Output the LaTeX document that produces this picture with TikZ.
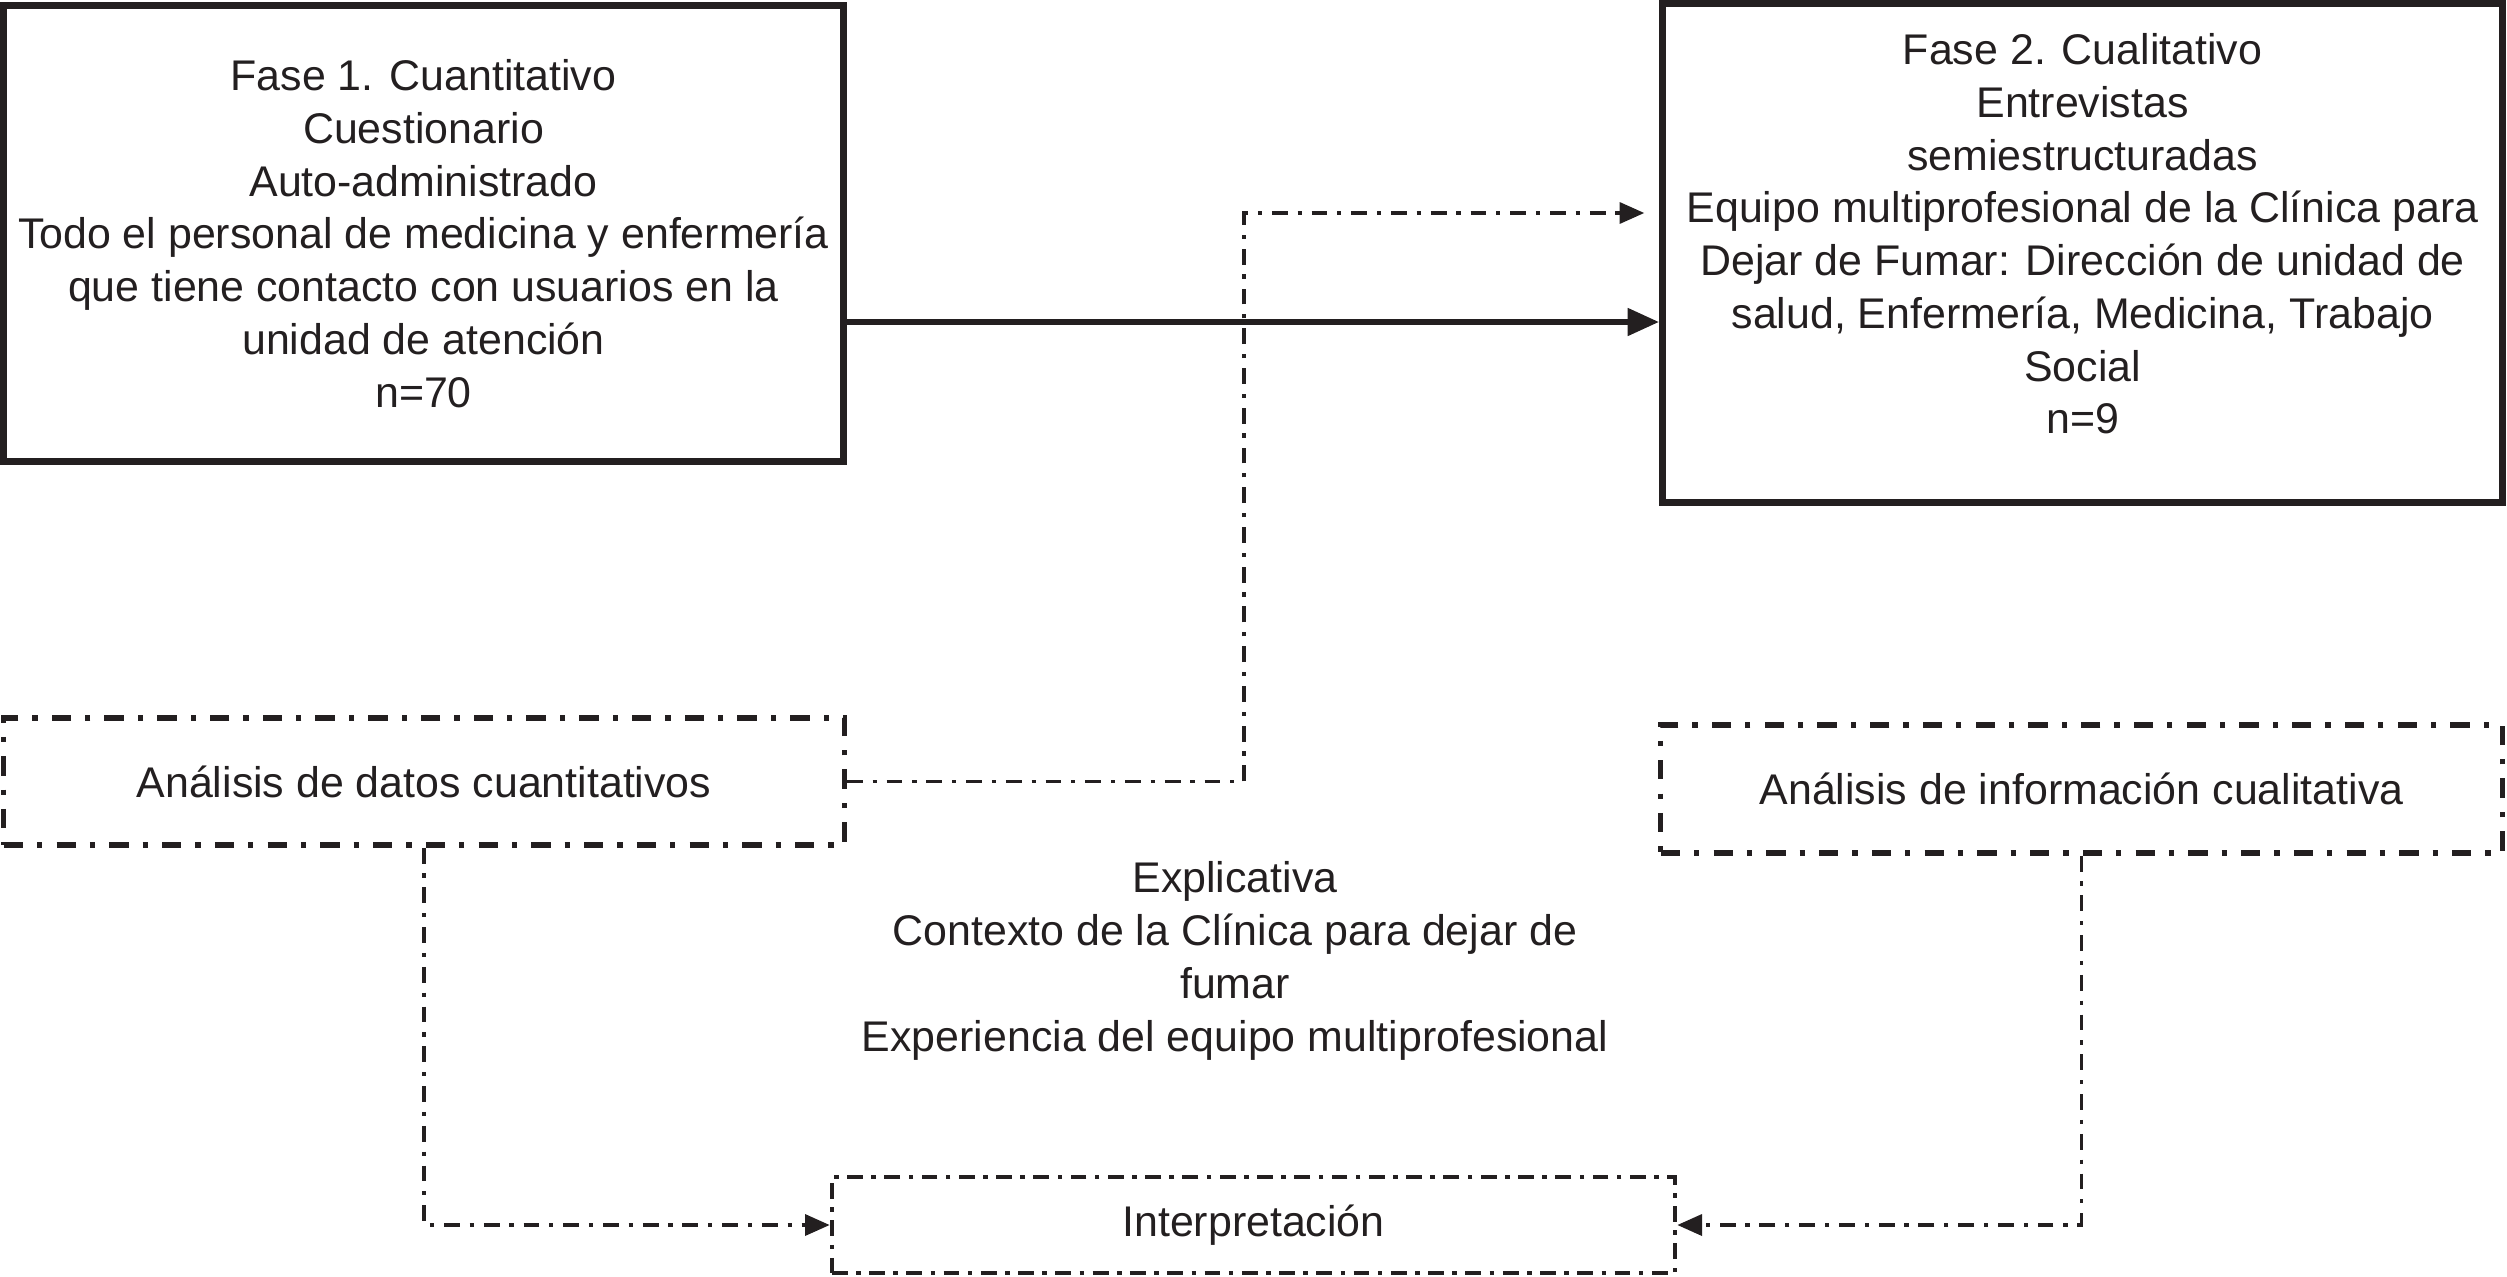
\documentclass[tikz,border=0pt]{standalone}
\usepackage{fontspec}
\setmainfont{Liberation Sans}
\usepackage{tikz}
\usetikzlibrary{positioning,arrows.meta,calc}
\definecolor{tinta}{RGB}{35,31,32}

\begin{document}
\begin{tikzpicture}[
  x=0.01cm, y=-0.01cm,
  every node/.style={font=\fontsize{12.2}{15}\selectfont,align=center,text=tinta},
  fase/.style={draw=tinta,line width=2pt,inner sep=0pt},
  analisis/.style={draw=tinta,line width=1.5pt,inner sep=0pt,
    dash pattern=on 5.5pt off 4pt on 1.5pt off 4pt},
  interpbox/.style={draw=tinta,line width=1.2pt,inner sep=0pt,
    dash pattern=on 4.5pt off 2.4pt on 1.3pt off 2.4pt},
  flecha/.style={tinta,line width=1.9pt,-{Triangle[length=9pt,width=7.5pt]}},
  enlace/.style={tinta,line width=0.9pt,-{Triangle[length=7pt,width=6pt]},
    dash pattern=on 4.5pt off 2.8pt on 1.2pt off 2.8pt}
]
\useasboundingbox (0,0) rectangle (2507,1276);

% Fases
\node[fase,minimum width=8.39cm,minimum height=4.55cm] (fase1) at (423.5,233.5)
  {Fase 1. Cuantitativo\\ Cuestionario\\ Auto-administrado\\
   Todo el personal de medicina y enfermería\\
   que tiene contacto con usuarios en la\\ unidad de atención\\ n=70};
\node[fase,minimum width=8.39cm,minimum height=4.98cm] (fase2) at (2082.5,253)
  {Fase 2. Cualitativo\\ Entrevistas\\ semiestructuradas\\
   Equipo multiprofesional de la Clínica para\\
   Dejar de Fumar: Dirección de unidad de\\
   salud, Enfermería, Medicina, Trabajo\\ Social\\ n=9\\[-4pt]\mbox{}};

% Análisis
\node[analisis,minimum width=8.4cm,minimum height=1.27cm] (anacuant) at (424,781.5)
  {Análisis de datos cuantitativos};
\node[analisis,minimum width=8.41cm,minimum height=1.28cm] (anacual) at (2081.5,789)
  {Análisis de información cualitativa};

% Texto central
\node (explica) at (1235,961)
  {Explicativa\\ Contexto de la Clínica para dejar de\\ fumar\\
   Experiencia del equipo multiprofesional};

% Interpretación
\node[interpbox,minimum width=8.43cm,minimum height=0.96cm] (interp) at (1253.5,1225)
  {Interpretación};

% Conectores
\coordinate (nivel) at (0,322);
\coordinate (codo) at (1244,213);
\draw[flecha] (fase1.east |- nivel) -- (fase2.west |- nivel);
\draw[enlace,shorten >=0.15cm] (anacuant.east) -| (codo) -- (codo -| fase2.west);
\draw[enlace] (anacuant.south) |- (interp.west);
\draw[enlace] (anacual.south) |- (interp.east);

\end{tikzpicture}
\end{document}
